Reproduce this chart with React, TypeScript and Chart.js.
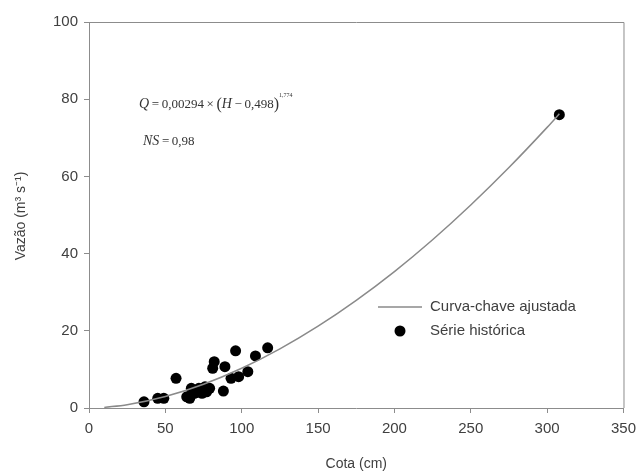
import React, { useEffect, useRef } from "react";
import { Chart, registerables } from "chart.js";

Chart.register(...registerables);

// Observed series (Cota cm, Vazão m³/s)
const obsCota = [36, 45, 49, 57, 64, 66, 67, 69, 72, 74, 76, 77, 79, 81, 82, 88, 89, 93, 96, 98, 104, 109, 117, 308];
const obsVazao = [1.6, 2.5, 2.5, 7.7, 2.9, 2.5, 5.1, 3.8, 5.1, 3.8, 5.5, 4.2, 5.1, 10.3, 12, 4.4, 10.7, 7.7, 14.8, 8.1, 9.4, 13.5, 15.6, 76];

// Fitted rating curve
const curveCota = [10, 25, 50, 75, 100, 125, 150, 175, 200, 225, 250, 275, 300, 308];
const curveVazao = [0.16, 0.86, 2.98, 6.16, 10.29, 15.32, 21.2, 27.9, 35.35, 43.6, 52.6, 62.3, 72.7, 76.2];

const xTicks = [0, 50, 100, 150, 200, 250, 300, 350];
const yTicks = [0, 20, 40, 60, 80, 100];

const seriesLabels = ["Curva-chave ajustada", "Série histórica"];
const xTitle = "Cota (cm)";
const yTitle = "Vazão (m³ s⁻¹)";

const SANS = "Arial, 'Liberation Sans', sans-serif";
const SERIF = "'Times New Roman', 'Liberation Serif', serif";
const AXIS = "#8c8c8c";
const TXT = "#404040";

const decorPlugin = {
  id: "decor",
  afterDraw(chart: any) {
    const { ctx, chartArea } = chart;
    const { left, right, top, bottom } = chartArea;
    ctx.save();
    // frame
    ctx.strokeStyle = AXIS;
    ctx.lineWidth = 1;
    ctx.beginPath();
    ctx.moveTo(left, top + 0.5);
    ctx.lineTo(right + 0.5, top + 0.5);
    ctx.lineTo(right + 0.5, bottom);
    ctx.stroke();

    // axis titles
    ctx.fillStyle = TXT;
    ctx.font = `14px ${SANS}`;
    ctx.textAlign = "center";
    ctx.textBaseline = "middle";
    ctx.fillText(xTitle, (left + right) / 2, 464);
    ctx.save();
    ctx.translate(21, 216);
    ctx.rotate(-Math.PI / 2);
    ctx.fillText(yTitle, 0, 0);
    ctx.restore();

    // legend
    ctx.textAlign = "left";
    ctx.font = `15px ${SANS}`;
    ctx.strokeStyle = "#8a8a8a";
    ctx.lineWidth = 1.5;
    ctx.beginPath();
    ctx.moveTo(378, 307);
    ctx.lineTo(422, 307);
    ctx.stroke();
    ctx.fillStyle = TXT;
    ctx.fillText(seriesLabels[0], 430, 307);
    ctx.fillStyle = "#000";
    ctx.beginPath();
    ctx.arc(400, 331, 5.5, 0, Math.PI * 2);
    ctx.fill();
    ctx.fillStyle = TXT;
    ctx.fillText(seriesLabels[1], 430, 331);

    // equation
    ctx.fillStyle = "#333";
    ctx.textBaseline = "alphabetic";
    let x = 139;
    const yb = 108;
    const put = (t: string, font: string, dy = 0) => {
      ctx.font = font;
      ctx.fillText(t, x, yb + dy);
      x += ctx.measureText(t).width;
    };
    put("Q", `italic 14px ${SERIF}`);
    put("\u2009=\u20090,00294\u2009×\u2009", `13px ${SERIF}`);
    put("(", `16px ${SERIF}`, 1);
    put("H", `italic 14px ${SERIF}`);
    put("\u2009−\u20090,498", `13px ${SERIF}`);
    put(")", `16px ${SERIF}`, 1);
    put("1,774", `6px ${SERIF}`, -11);

    x = 143;
    const yb2 = 145;
    ctx.font = `italic 14px ${SERIF}`;
    ctx.fillText("NS", x, yb2);
    x += ctx.measureText("NS").width;
    ctx.font = `13px ${SERIF}`;
    ctx.fillText("\u2009=\u20090,98", x, yb2);
    ctx.restore();
  },
};

export default function App() {
  const ref = useRef<HTMLCanvasElement>(null);
  useEffect(() => {
    if (!ref.current) return;
    const chart = new Chart(ref.current, {
      type: "scatter",
      data: {
        datasets: [
          {
            type: "line",
            label: seriesLabels[0],
            data: curveCota.map((c, i) => ({ x: c, y: curveVazao[i] })),
            borderColor: "#8a8a8a",
            borderWidth: 1.5,
            pointRadius: 0,
            tension: 0.4,
            cubicInterpolationMode: "monotone",
            fill: false,
          } as any,
          {
            type: "scatter",
            label: seriesLabels[1],
            data: obsCota.map((c, i) => ({ x: c, y: obsVazao[i] })),
            backgroundColor: "#000",
            borderColor: "#000",
            pointRadius: 5.5,
            pointBorderWidth: 0,
          } as any,
        ],
      },
      options: {
        responsive: false,
        animation: false,
        layout: { padding: { top: 22, right: 15, left: 0, bottom: 0 } },
        plugins: { legend: { display: false }, tooltip: { enabled: false } },
        scales: {
          x: {
            type: "linear",
            min: 0,
            max: 350,
            afterBuildTicks: (s: any) => {
              s.ticks = xTicks.map((v) => ({ value: v }));
            },
            afterFit: (s: any) => {
              s.height = 66;
            },
            border: { color: AXIS, width: 1 },
            grid: { drawOnChartArea: false, drawTicks: true, tickLength: 5, color: AXIS },
            ticks: { color: TXT, font: { size: 15, family: SANS }, padding: 7, maxRotation: 0 },
          },
          y: {
            type: "linear",
            min: 0,
            max: 100,
            afterBuildTicks: (s: any) => {
              s.ticks = yTicks.map((v) => ({ value: v }));
            },
            afterFit: (s: any) => {
              s.width = 89;
            },
            border: { color: AXIS, width: 1 },
            grid: { drawOnChartArea: false, drawTicks: true, tickLength: 5, color: AXIS },
            ticks: { color: TXT, font: { size: 15, family: SANS }, padding: 6 },
          },
        },
      },
      plugins: [decorPlugin],
    });
    return () => chart.destroy();
  }, []);
  return (
    <div style={{ position: "fixed", left: 0, top: 0, width: 643, height: 474, background: "#fff" }}>
      <canvas ref={ref} width={643} height={474} style={{ width: 643, height: 474, display: "block" }} />
    </div>
  );
}
